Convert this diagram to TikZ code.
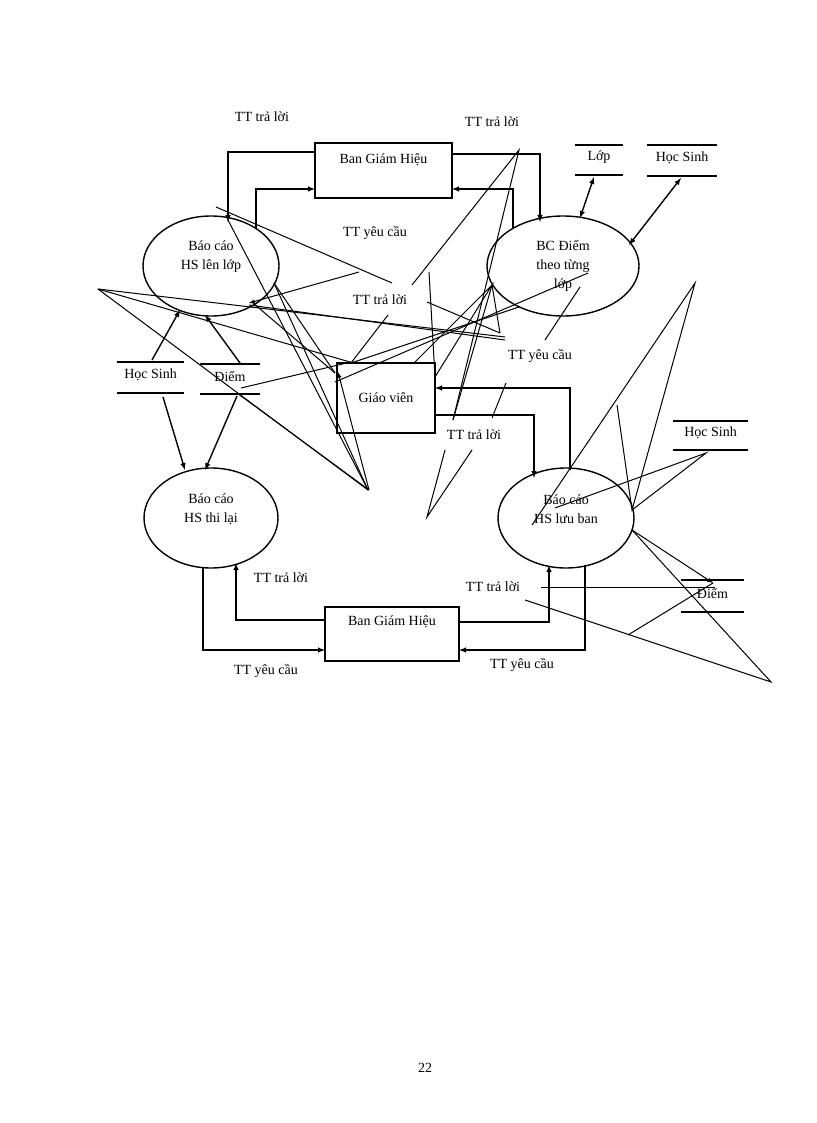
\documentclass[tikz,border=0pt]{standalone}
\usepackage{fontspec}
\setmainfont{Liberation Serif}
\begin{document}
\begin{tikzpicture}[x=1pt,y=-1pt,font=\fontsize{14}{19}\selectfont,
  thick/.style={line width=1.4pt},
  arr/.style={line width=1.4pt,-latex},
  junk/.style={line width=1pt},
  lab/.style={inner sep=1pt}]
\useasboundingbox (0,0) rectangle (816,1123);
% boxes
\node[draw,thick,minimum width=137pt,minimum height=55pt] (bgh1) at (383.5,170.5) {};
\node[lab] (t1) at (383.5,160) {Ban Giám Hiệu};
\node[draw,thick,minimum width=98pt,minimum height=70pt] (gv) at (386,398) {Giáo viên};
\node[draw,thick,minimum width=134pt,minimum height=54pt] (bgh2) at (392,634) {};
\node[lab] (t2) at (392,622) {Ban Giám Hiệu};
% ellipses
\draw[thick] (211,266) ellipse (68 and 50);
\node[align=center] (e1) at (211,257) {Báo cáo\\HS lên lớp};
\draw[thick] (563,266) ellipse (76 and 50);
\node[align=center] (e2) at (563,266) {BC Điểm\\theo từng\\lớp};
\draw[thick] (211,518) ellipse (67 and 50);
\node[align=center] (e3) at (211,509) {Báo cáo\\HS thi lại};
\draw[thick] (566,518) ellipse (68 and 50);
\node[align=center] (e4) at (566,509) {Báo cáo\\HS lưu ban};
% data stores
\foreach \n/\xa/\xb/\ya/\yb/\t in {s1/575/623/145/175/Lớp, s2/647/717/145/176/Học Sinh, s3/117/184/362/393/Học Sinh, s4/200/260/364/394/Điểm, s5/673/748/421/450/Học Sinh, s6/681/744/580/612/Điểm}{
  \draw[thick] (\xa,\ya) -- (\xb,\ya) (\xa,\yb) -- (\xb,\yb);
  \node[lab] (\n) at ({(\xa+\xb)/2},{(\ya+\yb)/2-3}) {\t};
}
% labels
\node[lab] at (262,117) {TT trả lời};
\node[lab] at (492,122) {TT trả lời};
\node[lab] at (375,233) {TT yêu cầu};
\node[lab] at (380,300) {TT trả lời};
\node[lab] at (540,356) {TT yêu cầu};
\node[lab] at (474,435) {TT trả lời};
\node[lab] at (281,578) {TT trả lời};
\node[lab] at (493,587) {TT trả lời};
\node[lab] at (266,671) {TT yêu cầu};
\node[lab] at (522,665) {TT yêu cầu};
\node at (425,1068) {22};
% main connectors
\draw[arr] (315,152) -- (228,152) -- (228,222);
\draw[arr] (256,228) -- (256,189) -- (315,189);
\draw[arr] (452,154) -- (540,154) -- (540,222);
\draw[arr] (513,228) -- (513,189) -- (452,189);
\draw[line width=1.4pt,latex-latex] (594,177) -- (580,218);
\draw[line width=1.4pt,latex-latex] (681,178) -- (629,245);
\draw[arr] (152,360) -- (180,310);
\draw[arr] (240,363) -- (205,315);
\draw[arr] (163,397) -- (185,470);
\draw[arr] (237,396) -- (205,470);
\draw[arr] (570,470) -- (570,388) -- (435,388);
\draw[arr] (435,415) -- (534,415) -- (534,478);
\draw[arr] (203,568) -- (203,650) -- (325,650);
\draw[arr] (325,620) -- (236,620) -- (236,563);
\draw[arr] (459,622) -- (549,622) -- (549,565);
\draw[arr] (585,565) -- (585,650) -- (459,650);
% stray lines
\draw[junk] (216,207) -- (392,283);
\draw[junk] (98,289) -- (350,362);
\draw[junk] (98,289) -- (505,337);
\draw[junk] (98,289) -- (368,490);
\draw[junk] (228,220) -- (368,490);
\draw[junk] (274,283) -- (368,490);
\draw[junk] (274,283) -- (335,373);
\draw[junk] (253,303) -- (335,373);
\draw[junk,-latex] (359,272) -- (249,303);
\draw[junk] (249,305) -- (505,340);
\draw[junk] (241,388) -- (351,362);
\draw[junk] (335,382) -- (588,273);
\draw[junk] (351,363) -- (519,307);
\draw[junk] (388,315) -- (351,363);
\draw[junk] (412,285) -- (519,150) -- (453,420);
\draw[junk] (429,272) -- (435,377);
\draw[junk] (414,363) -- (492,285) -- (435,377);
\draw[junk] (492,285) -- (453,420);
\draw[junk] (492,285) -- (500,333);
\draw[junk] (427,302) -- (500,333);
\draw[junk] (545,340) -- (580,287);
\draw[junk] (506,383) -- (492,418);
\draw[junk] (445,450) -- (427,517) -- (472,450);
\draw[junk] (237,393) -- (369,490);
\draw[junk,-latex] (369,490) -- (338,372);
\draw[junk] (532,525) -- (695,283) -- (632,510) -- (617,405);
\draw[junk] (555,508) -- (706,453) -- (632,510);
\draw[junk] (632,530) -- (771,682) -- (525,600);
\draw[junk,-latex] (632,530) -- (713,583);
\draw[junk] (628,635) -- (713,583);
\draw[junk] (541,587) -- (715,587);
\end{tikzpicture}
\end{document}
